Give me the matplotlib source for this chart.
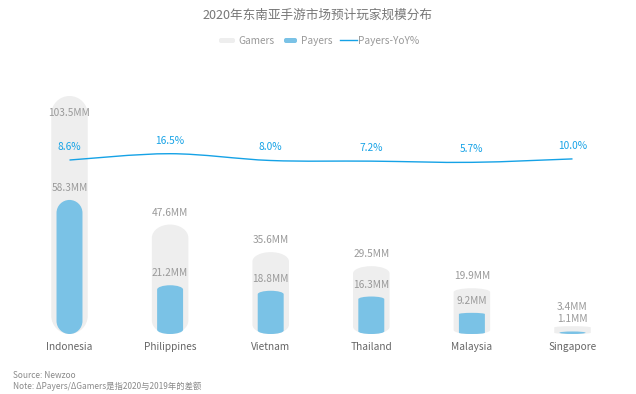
import numpy as np
import matplotlib
matplotlib.use('Agg')
import matplotlib.pyplot as plt
from matplotlib.path import Path
from matplotlib.patches import PathPatch, FancyBboxPatch
from matplotlib.lines import Line2D

plt.rcParams['font.family'] = ['Noto Sans CJK SC', 'DejaVu Sans']
plt.rcParams['font.weight'] = 'light'

countries = ['Indonesia', 'Philippines', 'Vietnam', 'Thailand', 'Malaysia', 'Singapore']
gamers = [103.5, 47.6, 35.6, 29.5, 19.9, 3.4]
payers = [58.3, 21.2, 18.8, 16.3, 9.2, 1.1]
yoy = [8.6, 16.5, 8.0, 7.2, 5.7, 10.0]

title = '2020年东南亚手游市场预计玩家规模分布'
source = 'Source: Newzoo'
note = 'Note: ΔPayers/ΔGamers是指2020与2019年的差额'

C_GAMERS = '#eeeeee'
C_PAYERS = '#7ac2e6'
C_LINE = '#15a2e6'
C_LABEL = '#999999'
C_TEXT = '#666666'

W, H = 636, 394
fig = plt.figure(figsize=(W / 100, H / 100), dpi=100)

# chart area in pixels
left, right, top, base = 19.2, 622.8, 96, 334
ax = fig.add_axes([left / W, 1 - base / H, (right - left) / W, (base - top) / H])
ax.set_xlim(-0.5, len(countries) - 0.5)
ax.set_ylim(0, max(gamers))
for s in ax.spines.values():
    s.set_visible(False)
ax.set_yticks([])
ax.set_xticks(range(len(countries)))
ax.set_xticklabels(countries, fontsize=7.3, color=C_TEXT)
ax.tick_params(axis='x', length=0, pad=6)
ax.patch.set_alpha(0)

px_x = (right - left) / len(countries)
px_y = (base - top) / max(gamers)
K = 0.5523


def capsule(xc, w, v, ry_px):
    # pill shaped bar, elliptical caps
    h_px = v * px_y
    ry_px = max(1.2, min(w * px_x / 2, ry_px, h_px / 2))
    ry = ry_px / px_y
    rx = w / 2
    x0, x1 = xc - rx, xc + rx
    verts = [(x0, ry), (x0, v - ry),
             (x0, v - ry + K * ry), (xc - K * rx, v), (xc, v),
             (xc + K * rx, v), (x1, v - ry + K * ry), (x1, v - ry),
             (x1, ry),
             (x1, ry - K * ry), (xc + K * rx, 0), (xc, 0),
             (xc - K * rx, 0), (x0, ry - K * ry), (x0, ry),
             (x0, ry)]
    codes = [Path.MOVETO, Path.LINETO,
             Path.CURVE4, Path.CURVE4, Path.CURVE4,
             Path.CURVE4, Path.CURVE4, Path.CURVE4,
             Path.LINETO,
             Path.CURVE4, Path.CURVE4, Path.CURVE4,
             Path.CURVE4, Path.CURVE4, Path.CURVE4,
             Path.CLOSEPOLY]
    return Path(verts, codes)


def to_pt(px):
    return px * 0.72


for i, (g, p) in enumerate(zip(gamers, payers)):
    hg = g * px_y
    hp = p * px_y
    ax.add_patch(PathPatch(capsule(i, 0.363, g, 0.15 * hg - 3), fc=C_GAMERS, ec='none'))
    ax.add_patch(PathPatch(capsule(i, 0.258, p, 0.15 * hp - 3), fc=C_PAYERS, ec='none'))

    # label positions (pixels above bar top)
    p_off = 12
    if g == max(gamers):
        g_off = -17
    else:
        g_off = 12
        gap = (hg + g_off) - (hp + p_off)
        if gap < 12:
            g_off = hp + p_off + 12 - hg
    ax.annotate(f'{g}MM', (i, g), xytext=(0, to_pt(g_off)), textcoords='offset points',
                ha='center', va='center', fontsize=7.3, color=C_LABEL)
    ax.annotate(f'{p}MM', (i, p), xytext=(0, to_pt(p_off)), textcoords='offset points',
                ha='center', va='center', fontsize=7.3, color=C_LABEL)

# YoY line on secondary axis
ax2 = ax.twinx()
zero_px, per_pct = 166.9, 0.8
ax2.set_ylim((zero_px - base) / per_pct, (zero_px - top) / per_pct)
ax2.set_axis_off()

xs = np.arange(len(yoy), dtype=float)
ys = np.array(yoy, dtype=float)
verts = [(xs[0], ys[0])]
codes = [Path.MOVETO]
n = len(xs)
for i in range(n - 1):
    pm = (xs[max(i - 1, 0)], ys[max(i - 1, 0)])
    p0 = (xs[i], ys[i])
    p1 = (xs[i + 1], ys[i + 1])
    p2 = (xs[min(i + 2, n - 1)], ys[min(i + 2, n - 1)])
    c1 = (p0[0] + (p1[0] - pm[0]) / 6, p0[1] + (p1[1] - pm[1]) / 6)
    c2 = (p1[0] - (p2[0] - p0[0]) / 6, p1[1] - (p2[1] - p0[1]) / 6)
    verts += [c1, c2, p1]
    codes += [Path.CURVE4] * 3
ax2.add_patch(PathPatch(Path(verts, codes), fc='none', ec=C_LINE, lw=1.0))
for i, v in enumerate(yoy):
    ax2.annotate(f'{v:.1f}%', (i, v), xytext=(0, to_pt(13)), textcoords='offset points',
                 ha='center', va='center', fontsize=7.3, color=C_LINE)

# title, legend, notes in figure pixels
ov = fig.add_axes([0, 0, 1, 1])
ov.set_xlim(0, W)
ov.set_ylim(H, 0)
ov.set_axis_off()
ov.patch.set_alpha(0)

ov.text(318, 15, title, ha='center', va='center', fontsize=9.1, color='#777777')

ov.add_patch(FancyBboxPatch((219, 38), 16, 5, boxstyle='round,pad=0,rounding_size=2',
                            fc=C_GAMERS, ec='none'))
ov.text(238, 40.5, 'Gamers', ha='left', va='center', fontsize=7.3, color=C_LABEL)
ov.add_patch(FancyBboxPatch((284, 38), 13, 5, boxstyle='round,pad=0,rounding_size=2',
                            fc=C_PAYERS, ec='none'))
ov.text(301, 40.5, 'Payers', ha='left', va='center', fontsize=7.3, color=C_LABEL)
ov.add_line(Line2D([340, 357], [40, 40], color=C_LINE, lw=1.0))
ov.text(358, 40.5, 'Payers-YoY%', ha='left', va='center', fontsize=7.3, color=C_LABEL)

ov.text(13, 376, source, ha='left', va='center', fontsize=6, color='#8a8a8a')
ov.text(13, 386, note, ha='left', va='center', fontsize=6, color='#8a8a8a')

fig.savefig('out.png', dpi=100)
